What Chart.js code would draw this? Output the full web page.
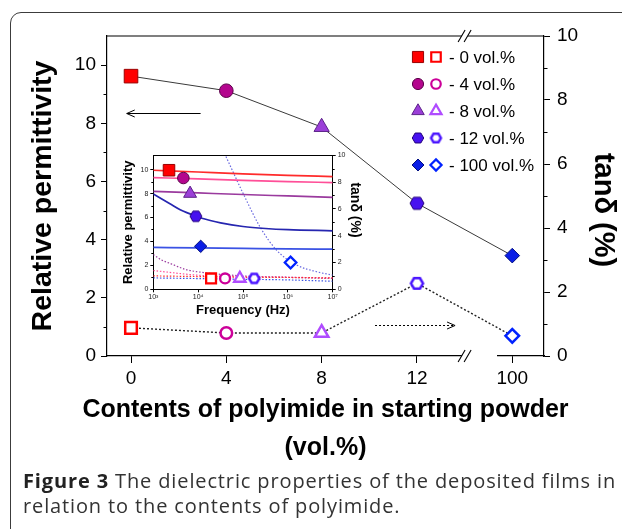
<!DOCTYPE html>
<html>
<head>
<meta charset="utf-8">
<title>Dielectric properties vs polyimide content</title>
<script src="https://cdn.jsdelivr.net/npm/chart.js@4.4.1/dist/chart.umd.min.js"></script>
<style>
  html, body { margin: 0; padding: 0; background: #fff; }
  body { position: relative; width: 622px; height: 529px; overflow: hidden; }
  #frame { position: absolute; left: 10px; top: 12px; width: 700px; height: 600px;
           border: 1.6px solid #3c3c3c; border-radius: 11px; }
  #mainChart { position: absolute; left: 0; top: 0; }
  #insetChart { position: absolute; left: 108px; top: 146px; }
  #caption { position: absolute; left: 23px; top: 468px; font: 20px "Open Sans", sans-serif;
             letter-spacing: 0.87px; line-height: 25px; color: #333; white-space: nowrap; }
  #caption b { color: #222; }
</style>
</head>
<body>
<div id="frame"></div>
<canvas id="mainChart" width="622" height="470"></canvas>
<canvas id="insetChart" width="262" height="178"></canvas>
<div id="caption"><b>Figure 3</b> The dielectric properties of the deposited films in<br>relation to the contents of polyimide.</div>

<script>
// ---- main plot data ----
const contents = ['0', '4', '8', '12', '100'];          // vol.% polyimide
const permittivity = [9.62, 9.12, 7.87, 5.25, 3.45];    // left axis
const tanDelta = [0.88, 0.72, 0.72, 2.27, 0.63];        // right axis (%)
const permTicks = [0, 2, 4, 6, 8, 10];
const permMinor = [1, 3, 5, 7, 9];
const tanTicks = [0, 2, 4, 6, 8, 10];
const tanMinor = [1, 3, 5, 7, 9];
const legendLabels = ['- 0 vol.%', '- 4 vol.%', '- 8 vol.%', '- 12 vol.%', '- 100 vol.%'];
const xTitle = ['Contents of polyimide in starting powder', '(vol.%)'];

// ---- inset: frequency sweeps ----
const freq = [1e3, 1e4, 1e5, 1e6, 1e7];
const eps0 = [9.95, 9.8, 9.65, 9.52, 9.42];
const eps4 = [9.34, 9.22, 9.1, 9.0, 8.92];
const eps8 = [8.18, 8.05, 7.92, 7.8, 7.68];
const eps100 = [3.5, 3.46, 3.42, 3.38, 3.35];
const freq12 = [1000, 2350, 3980, 6600, 8900, 18600, 31600, 1e5, 3.16e5, 1e6, 1e7];
const eps12 = [7.96, 7.14, 6.64, 6.3, 6.1, 5.75, 5.55, 5.25, 5.08, 4.98, 4.89];
const tan0 = [1.0, 0.95, 0.9, 0.88, 0.85];
const tan4 = [1.4, 1.05, 0.95, 0.9, 0.85];
const tan100 = [0.85, 0.8, 0.75, 0.7, 0.6];
const freq8 = [1000, 1500, 2500, 5000, 1e4, 1e5, 1e6, 1e7];
const tan8 = [2.6, 2.2, 1.9, 1.5, 1.3, 1.0, 0.9, 0.8];
const freqT12 = [41700, 1.1e5, 2.4e5, 5.6e5, 1.6e6, 4.4e6, 1e7];
const tan12 = [9.9, 6.88, 4.65, 2.92, 1.8, 1.31, 1.06];
const insetFillFreq = [2240, 4680, 6610, 8910, 11400];
const insetFillEps = [9.95, 9.3, 8.0, 6.1, 3.59];
const insetOpenFreq = [19400, 39800, 85000, 178000, 1.15e6];
const insetOpenEps = [0.91, 0.91, 0.91, 0.91, 2.24];
const decades = [1e3, 1e4, 1e5, 1e6, 1e7];
const insetPermTicks = [0, 2, 4, 6, 8, 10];
const insetTanTicks = [0, 2, 4, 6, 8, 10];

// annotation positions, in axis units
const BREAK_AT = 3.5;       // the // marks on the x axis
const GAP_END = 3.84;       // end of the gap in the bottom axis
const leftArrow = { from: 0.73, to: -0.045, at: 8.35 };
const rightArrow = { from: 2.56, to: 3.4, at: 0.97 };

// marker colours per composition
const fillCol = ['#ff0000', '#b4068e', '#9b3fd8', '#4712f0', '#0a1ee6'];
const edgeCol = ['#9a0000', '#5a0048', '#5c2388', '#22007a', '#000e80'];
const openCol = ['#ff0000', '#cc0099', '#b04cff', '#4a14ff', '#0022ff'];
const lineCol = ['#ff2b2b', '#ff4f98', '#9a3a9e', '#2626b0', '#3a52e4'];

const FONT = '"Liberation Sans", Arial, sans-serif';
Chart.defaults.font.family = FONT;
Chart.defaults.color = '#000';

// Chart.js has no hexagon, so build one as an image point style
function hexagon(size, fill, stroke, lw) {
    const c = document.createElement('canvas');
    c.width = c.height = Math.ceil(size + lw * 2 + 2);
    const g = c.getContext('2d');
    const m = c.width / 2, r = size / 2;
    g.beginPath();
    for (let k = 0; k < 6; k++) {
        const a = Math.PI / 3 * k;
        g.lineTo(m + r * Math.cos(a), m + r * Math.sin(a));
    }
    g.closePath();
    g.fillStyle = fill;
    g.fill();
    g.lineWidth = lw;
    g.strokeStyle = stroke;
    g.stroke();
    return c;
}

function markerSet(k) {
    return {
        fill: ['rect', 'circle', 'triangle', hexagon(14 * k, fillCol[3], edgeCol[3], 1), 'rectRot'],
        fillR: [9.6, 6.8, 8.8, 6.5, 7.3].map(r => r * k),
        open: ['rect', 'circle', 'triangle', hexagon(12 * k, '#fff', openCol[3], 2.5), 'rectRot'],
        openR: [8.2, 5.8, 7.8, 6, 6.8].map(r => r * k)
    };
}
const mainMarks = markerSet(1);
const insetMarks = markerSet(0.85);
const legendMarks = markerSet(0.82);

function seg(ctx, x0, y0, x1, y1) {
    ctx.beginPath();
    ctx.moveTo(x0, y0);
    ctx.lineTo(x1, y1);
    ctx.stroke();
}

function drawMark(ctx, style, r, fill, stroke, lw, x, y) {
    ctx.save();
    ctx.fillStyle = fill;
    ctx.strokeStyle = stroke;
    ctx.lineWidth = lw;
    Chart.helpers.drawPoint(ctx, { pointStyle: style, radius: r, borderWidth: lw, rotation: 0 }, x, y);
    ctx.restore();
}

function breakMark(ctx, cx, cy) {
    const h = 6, s = 3.5, d = 3;
    ctx.save();
    ctx.fillStyle = '#fff';
    ctx.beginPath();
    ctx.moveTo(cx - d - s, cy + h);
    ctx.lineTo(cx - d + s, cy - h);
    ctx.lineTo(cx + d + s, cy - h);
    ctx.lineTo(cx + d - s, cy + h);
    ctx.closePath();
    ctx.fill();
    ctx.strokeStyle = '#000';
    ctx.lineWidth = 1.1;
    [-d, d].forEach(o => seg(ctx, cx + o - s, cy + h, cx + o + s, cy - h));
    ctx.restore();
}

function arrow(ctx, x0, x1, yy, dash) {
    ctx.save();
    ctx.strokeStyle = '#000';
    ctx.lineWidth = 1;
    ctx.setLineDash(dash);
    seg(ctx, x0, yy, x1, yy);
    ctx.setLineDash([]);
    const dir = Math.sign(x1 - x0);
    ctx.beginPath();
    ctx.moveTo(x1 - dir * 8, yy - 3.5);
    ctx.lineTo(x1, yy);
    ctx.lineTo(x1 - dir * 8, yy + 3.5);
    ctx.stroke();
    ctx.restore();
}

function rotatedText(ctx, txt, font, cx, cy) {
    ctx.save();
    ctx.fillStyle = '#000';
    ctx.font = font;
    ctx.translate(cx, cy);
    ctx.rotate(Math.PI / 2);
    ctx.textAlign = 'center';
    ctx.textBaseline = 'middle';
    ctx.fillText(txt, 0, 0);
    ctx.restore();
}

// frame top, minor ticks, axis break, arrows, legend and titles
const mainDecor = {
    id: 'mainDecor',
    afterDraw(chart) {
        const { ctx, chartArea: a } = chart;
        const { x, y, y2 } = chart.scales;
        ctx.save();
        ctx.strokeStyle = '#000';
        ctx.lineWidth = 1.2;
        seg(ctx, a.left, a.top, a.right, a.top);

        ctx.lineWidth = 1;
        permMinor.forEach(v => {
            const p = Math.round(y.getPixelForValue(v)) + 0.5;
            seg(ctx, a.left - 3.5, p, a.left, p);
        });
        tanMinor.forEach(v => {
            const p = Math.round(y2.getPixelForValue(v)) + 0.5;
            seg(ctx, a.right, p, a.right + 3.5, p);
        });

        const bx = x.getPixelForValue(BREAK_AT);
        ctx.fillStyle = '#fff';
        ctx.fillRect(bx + 3, a.bottom - 2, x.getPixelForValue(GAP_END) - bx - 3, 4);
        breakMark(ctx, bx, a.top);
        breakMark(ctx, bx, a.bottom);

        arrow(ctx, x.getPixelForValue(leftArrow.from), x.getPixelForValue(leftArrow.to),
              Math.round(y.getPixelForValue(leftArrow.at)) + 0.5, []);
        arrow(ctx, x.getPixelForValue(rightArrow.from), x.getPixelForValue(rightArrow.to),
              Math.round(y2.getPixelForValue(rightArrow.at)) + 0.5, [2, 2]);

        // legend: filled + open marker per composition
        ctx.font = '17px ' + FONT;
        ctx.textAlign = 'left';
        ctx.textBaseline = 'middle';
        legendLabels.forEach((txt, i) => {
            const ly = 57 + 27 * i;
            drawMark(ctx, legendMarks.fill[i], legendMarks.fillR[i], fillCol[i], edgeCol[i], 1, 418, ly);
            drawMark(ctx, legendMarks.open[i], legendMarks.openR[i], '#fff', openCol[i], 2.2, 436, ly);
            ctx.fillStyle = '#000';
            ctx.fillText(txt, 449, ly + 1);
        });

        // x title is wider than the plot, so it is drawn here rather than by the scale
        ctx.fillStyle = '#000';
        ctx.font = 'bold 25px ' + FONT;
        ctx.textAlign = 'center';
        const cx = (a.left + a.right) / 2;
        xTitle.forEach((t, i) => ctx.fillText(t, cx, 410 + 38 * i));

        rotatedText(ctx, 'tan\u03b4 (%)', 'bold 29px ' + FONT, 603, 210);
        ctx.restore();
    }
};

new Chart(document.getElementById('mainChart'), {
    type: 'line',
    data: {
        datasets: [{
            label: 'Relative permittivity',
            data: permittivity.map((v, i) => ({ x: i, y: v })),
            yAxisID: 'y',
            borderColor: '#3a3a3a',
            borderWidth: 1,
            pointStyle: mainMarks.fill,
            pointRadius: mainMarks.fillR,
            pointBackgroundColor: fillCol,
            pointBorderColor: edgeCol,
            pointBorderWidth: 1
        }, {
            label: 'tan\u03b4',
            data: tanDelta.map((v, i) => ({ x: i, y: v })),
            yAxisID: 'y2',
            borderColor: '#222',
            borderWidth: 1.4,
            borderDash: [2, 2],
            pointStyle: mainMarks.open,
            pointRadius: mainMarks.openR,
            pointBackgroundColor: '#fff',
            pointBorderColor: openCol,
            pointBorderWidth: 2.5
        }]
    },
    options: {
        responsive: false,
        animation: false,
        layout: { padding: { left: 12, top: 36, right: 0, bottom: 0 } },
        plugins: { legend: { display: false }, tooltip: { enabled: false } },
        scales: {
            x: {
                type: 'linear',
                min: -0.252,
                max: 4.333,
                afterBuildTicks: s => { s.ticks = contents.map((_, i) => ({ value: i })); },
                afterFit: s => { s.height = 114; },
                ticks: { callback: v => contents[v], font: { size: 19 }, padding: 4, maxRotation: 0, autoSkip: false },
                grid: { drawOnChartArea: false, tickLength: 7, color: '#000' },
                border: { color: '#000', width: 1.2 }
            },
            y: {
                position: 'left',
                min: 0,
                max: 11,
                afterBuildTicks: s => { s.ticks = permTicks.map(v => ({ value: v })); },
                afterFit: s => { s.width = 95; },
                ticks: { font: { size: 19 }, padding: 5 },
                grid: { drawOnChartArea: false, tickLength: 6, color: '#000' },
                border: { color: '#000', width: 1.2 },
                title: {
                    display: true,
                    text: 'Relative permittivity',
                    font: { size: 28.5, weight: 'bold' },
                    padding: { top: 14, bottom: 0 }
                }
            },
            y2: {
                position: 'right',
                min: 0,
                max: 10,
                afterBuildTicks: s => { s.ticks = tanTicks.map(v => ({ value: v })); },
                afterFit: s => { s.width = 78; },
                ticks: { font: { size: 19 }, padding: 7 },
                grid: { drawOnChartArea: false, tickLength: 6, color: '#000' },
                border: { color: '#000', width: 1.2 }
            }
        }
    },
    plugins: [mainDecor]
});

// ---- inset ----
const sup = { 3: '\u00b3', 4: '\u2074', 5: '\u2075', 6: '\u2076', 7: '\u2077' };

function sweep(xs, ys, color, axis, dotted) {
    return {
        data: xs.map((f, i) => ({ x: f, y: ys[i] })),
        yAxisID: axis,
        borderColor: color,
        borderWidth: dotted ? 1.2 : 1.7,
        borderDash: dotted ? [1.5, 1.8] : [],
        cubicInterpolationMode: 'monotone',
        pointRadius: 0
    };
}

const insetDecor = {
    id: 'insetDecor',
    afterDraw(chart) {
        const { ctx, chartArea: a } = chart;
        const { y, y2 } = chart.scales;
        ctx.save();
        ctx.strokeStyle = '#000';
        ctx.lineWidth = 1;
        seg(ctx, a.left, Math.round(a.top) + 0.5, a.right, Math.round(a.top) + 0.5);
        permMinor.forEach(v => {
            const p = Math.round(y.getPixelForValue(v)) + 0.5;
            seg(ctx, a.left - 2, p, a.left, p);
        });
        tanMinor.forEach(v => {
            const p = Math.round(y2.getPixelForValue(v)) + 0.5;
            seg(ctx, a.right, p, a.right + 2, p);
        });
        ctx.restore();
        rotatedText(ctx, 'tan\u03b4 (%)', 'bold 14px ' + FONT, 247, 64);
    }
};

const insetTickFont = { size: 7 };

new Chart(document.getElementById('insetChart'), {
    type: 'line',
    data: {
        datasets: [{
            data: insetFillFreq.map((f, i) => ({ x: f, y: insetFillEps[i] })),
            yAxisID: 'y',
            showLine: false,
            pointStyle: insetMarks.fill,
            pointRadius: insetMarks.fillR,
            pointBackgroundColor: fillCol,
            pointBorderColor: edgeCol,
            pointBorderWidth: 1
        }, {
            data: insetOpenFreq.map((f, i) => ({ x: f, y: insetOpenEps[i] })),
            yAxisID: 'y',
            showLine: false,
            pointStyle: insetMarks.open,
            pointRadius: insetMarks.openR,
            pointBackgroundColor: '#fff',
            pointBorderColor: openCol,
            pointBorderWidth: 2.3
        },
            sweep(freq, eps0, lineCol[0], 'y', false),
            sweep(freq, eps4, lineCol[1], 'y', false),
            sweep(freq, eps8, lineCol[2], 'y', false),
            sweep(freq12, eps12, lineCol[3], 'y', false),
            sweep(freq, eps100, lineCol[4], 'y', false),
            sweep(freq, tan0, lineCol[0], 'y2', true),
            sweep(freq, tan4, lineCol[1], 'y2', true),
            sweep(freq8, tan8, lineCol[2], 'y2', true),
            sweep(freqT12, tan12, '#6a6ae0', 'y2', true),
            sweep(freq, tan100, lineCol[4], 'y2', true)
        ]
    },
    options: {
        responsive: false,
        animation: false,
        layout: { padding: { left: 0, top: 8.7, right: 0, bottom: 0 } },
        plugins: { legend: { display: false }, tooltip: { enabled: false } },
        scales: {
            x: {
                type: 'logarithmic',
                min: 1e3,
                max: 1e7,
                afterBuildTicks: s => { s.ticks = decades.map(v => ({ value: v })); },
                afterFit: s => { s.height = 34.7; },
                ticks: {
                    callback: v => '10' + sup[Math.round(Math.log10(v))],
                    font: insetTickFont, color: '#222', padding: 1, maxRotation: 0, autoSkip: false
                },
                grid: { drawOnChartArea: false, tickLength: 3, color: '#000' },
                border: { color: '#000' },
                title: { display: true, text: 'Frequency (Hz)', font: { size: 13, weight: 'bold' }, padding: { top: 0, bottom: 6 } }
            },
            y: {
                position: 'left',
                min: 0,
                max: 11.2,
                afterBuildTicks: s => { s.ticks = insetPermTicks.map(v => ({ value: v })); },
                afterFit: s => { s.width = 45.3; },
                ticks: { font: insetTickFont, color: '#222', padding: 2 },
                grid: { drawOnChartArea: false, tickLength: 3, color: '#000' },
                border: { color: '#000' },
                title: { display: true, text: 'Relative permittivity', font: { size: 13, weight: 'bold' }, padding: { top: 13, bottom: 0 } }
            },
            y2: {
                position: 'right',
                min: 0,
                max: 10,
                afterBuildTicks: s => { s.ticks = insetTanTicks.map(v => ({ value: v })); },
                afterFit: s => { s.width = 37.3; },
                ticks: { font: insetTickFont, color: '#222', padding: 2 },
                grid: { drawOnChartArea: false, tickLength: 3, color: '#000' },
                border: { color: '#000' }
            }
        }
    },
    plugins: [insetDecor]
});
</script>
</body>
</html>
